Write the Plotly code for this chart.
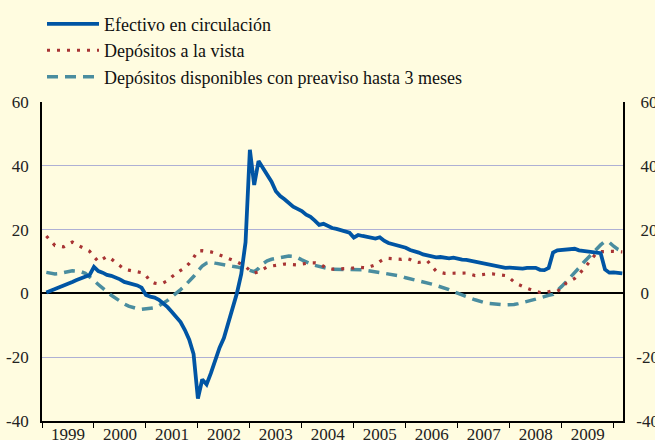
import plotly.graph_objects as go

# Monthly data, Jan 1999 .. Feb 2010 (plotted at month end)
efectivo = [
    0.3, 0.8, 1.3, 1.8, 2.3, 2.8, 3.6, 4.2, 4.7, 5.3, 5.8, 8.3,          # 1999
    7.0, 6.5, 5.8, 5.5, 5.0, 4.4, 3.6, 3.3, 3.0, 2.5, 1.8, -0.5,         # 2000
    -1.0, -1.3, -2.0, -3.0, -4.3, -5.8, -7.3, -9.0, -11.5, -14.5, -19.0, -33.0,  # 2001
    -27.0, -28.5, -25.0, -21.0, -17.0, -14.0, -9.5, -5.0, 0.0, 6.0, 16.0, 45.0,  # 2002
    34.0, 41.5, 39.5, 37.5, 35.0, 32.0, 30.5, 29.5, 28.3, 27.2, 26.5, 25.8,    # 2003
    24.7, 24.0, 22.8, 21.5, 21.8, 21.0, 20.5, 20.2, 19.9, 19.5, 19.0, 17.5,    # 2004
    18.3, 18.0, 17.8, 17.5, 17.2, 17.6, 16.5, 15.8, 15.5, 15.2, 14.8, 14.3,    # 2005
    13.6, 13.3, 12.8, 12.2, 11.8, 11.5, 11.3, 11.4, 11.2, 11.0, 11.2, 10.8,    # 2006
    10.6, 10.5, 10.2, 9.9, 9.6, 9.3, 9.0, 8.7, 8.4, 8.2, 8.0, 8.1,            # 2007
    7.9, 8.0, 7.8, 8.0, 7.9, 8.0, 7.4, 7.3, 8.0, 12.8, 13.5, 13.6,           # 2008
    13.7, 13.9, 14.0, 13.5, 13.3, 13.2, 13.0, 12.9, 12.6, 7.5, 6.5, 6.6,     # 2009
    6.3, 6.3,                                                              # 2010
]
vista = [
    18.0, 16.3, 15.0, 14.8, 14.6, 15.5, 16.1, 15.3, 14.6, 14.0, 13.2, 11.5,
    10.0, 10.8, 11.6, 10.8, 9.7, 8.6, 7.6, 7.3, 7.0, 6.8, 6.5, 5.6,
    3.8, 3.2, 3.0, 3.3, 4.0, 5.2, 6.3, 7.2, 8.0, 9.4, 11.2, 13.3,
    13.4, 13.3, 13.0, 12.6, 12.1, 11.6, 11.1, 10.5, 9.9, 9.2, 8.4, 7.2,
    6.3, 6.8, 7.6, 8.3, 8.6, 8.8, 9.0, 9.2, 9.1, 8.9, 8.9, 9.2,
    9.5, 9.6, 9.6, 9.4, 8.5, 7.8, 7.6, 7.6, 7.6, 7.7, 7.8, 8.0,
    8.3, 8.1, 8.0, 8.5, 9.0, 10.0, 10.8, 11.0, 10.9, 10.6, 10.7, 11.0,
    10.6, 9.9, 9.7, 10.0, 10.2, 8.5, 7.0, 6.6, 6.3, 6.3, 6.3, 6.4,
    6.5, 6.4, 6.0, 5.6, 5.8, 6.0, 6.1, 6.1, 6.0, 5.9, 5.6, 4.8,
    3.6, 2.8, 2.1, 1.6, 1.1, 0.7, 0.3, 0.2, 0.6, 0.9, 0.7, 1.5,
    3.2, 4.0, 4.7, 6.0, 7.5, 9.2, 10.9, 12.6, 13.1, 13.2, 13.2, 13.2,
    13.1, 13.0,
]
preaviso = [
    6.6, 6.3, 6.1, 6.2, 6.5, 6.9, 7.1, 7.0, 6.8, 6.3, 5.3, 4.0,
    2.8, 1.8, 0.5, -0.6, -1.5, -2.6, -3.3, -4.0, -4.5, -4.8, -5.0, -4.9,
    -4.8, -4.5, -3.9, -3.1, -2.2, -1.0, 0.0, 1.2, 2.4, 3.7, 5.3, 7.0,
    8.6, 9.5, 9.8, 9.5, 9.2, 8.9, 8.7, 8.5, 8.3, 8.0, 7.6, 7.2,
    6.8, 7.8, 9.3, 10.2, 10.7, 11.0, 11.3, 11.6, 11.7, 11.6, 11.2, 10.5,
    9.8, 9.3, 8.8, 8.4, 8.1, 7.8, 7.6, 7.6, 7.6, 7.6, 7.6, 7.6,
    7.6, 7.4, 7.2, 7.0, 6.8, 6.5, 6.3, 6.1, 6.0, 5.8, 5.4, 4.9,
    4.6, 4.3, 4.0, 3.7, 3.3, 2.9, 2.5, 2.1, 1.7, 1.2, 0.6, 0.0,
    -0.5, -1.0, -1.5, -2.0, -2.5, -2.8, -3.1, -3.3, -3.4, -3.5, -3.6, -3.6,
    -3.5, -3.2, -2.9, -2.5, -2.2, -1.8, -1.4, -0.9, -0.6, -0.3, 0.8, 2.2,
    3.6, 5.0, 6.5, 8.0, 9.6, 11.0, 12.5, 14.0, 15.2, 16.3, 16.0, 14.8,
    13.8, 13.2,
]

years = list(range(1999, 2010))
year_labels = [str(y) for y in years]
y_ticks = [-40, -20, 0, 20, 40, 60]
y_labels_left = ["-40", "-20", "0", "20", "40", "60"]
y_labels_right = ["-40", "-20", "\u00a00", "\u00a020", "\u00a040", "\u00a060"]

x = [1999 + (i + 1) / 12 for i in range(len(efectivo))]

names = ["Efectivo en circulación", "Depósitos a la vista",
         "Depósitos disponibles con preaviso hasta 3 meses"]

BLUE = "#0055A4"
RED = "#A83434"
TEAL = "#4A8D9F"
BG = "#FFFCE0"
GRID = "#AEB0D4"
FONT = "Liberation Serif, Times New Roman, DejaVu Serif, serif"

fig = go.Figure()
fig.add_trace(go.Scatter(x=x, y=preaviso, mode="lines", name=names[2],
                         line=dict(color=TEAL, width=3.5, dash="11px,7px"),
                         legendrank=3))
fig.add_trace(go.Scatter(x=x, y=vista, mode="lines", name=names[1],
                         line=dict(color=RED, width=3.2, dash="3px,7px"),
                         legendrank=2))
fig.add_trace(go.Scatter(x=x, y=efectivo, mode="lines", name=names[0],
                         line=dict(color=BLUE, width=3.8),
                         legendrank=1))
# invisible trace to carry the right-hand axis
fig.add_trace(go.Scatter(x=x, y=efectivo, mode="lines", yaxis="y2",
                         line=dict(width=0, color="rgba(0,0,0,0)"),
                         showlegend=False, hoverinfo="skip"))

fig.update_layout(
    width=655, height=440,
    margin=dict(l=42, r=32, t=102, b=19, autoexpand=False),
    paper_bgcolor=BG, plot_bgcolor=BG,
    font=dict(family=FONT, size=17, color="#222222"),
    showlegend=True,
    legend=dict(x=0.0, y=1.302, xanchor="left", yanchor="top",
                bgcolor="rgba(0,0,0,0)", traceorder="normal",
                font=dict(family=FONT, size=18, color="#111111"),
                itemwidth=52),
    xaxis=dict(
        range=[1999, 2010.18],
        tickmode="array", tickvals=[y + 0.5 for y in years], ticktext=year_labels,
        ticks="", showgrid=False, zeroline=False,
        showline=True, linecolor="black", linewidth=1.5,
        ticklabelstandoff=-3, automargin=False,
        minor=dict(tick0=1999, dtick=1, ticks="outside", ticklen=5,
                   tickcolor="black", tickwidth=1.2, showgrid=False),
        tickfont=dict(family=FONT, size=17, color="#222222"),
    ),
    yaxis=dict(
        range=[-40, 60], tickmode="array", tickvals=y_ticks, ticktext=y_labels_left,
        showgrid=True, gridcolor=GRID, gridwidth=1.3,
        zeroline=True, zerolinecolor="black", zerolinewidth=1.5,
        showline=True, linecolor="black", linewidth=1.8,
        ticks="", ticklabelstandoff=8, automargin=False,
        tickfont=dict(family=FONT, size=17, color="#222222"),
    ),
    yaxis2=dict(
        range=[-40, 60], overlaying="y", side="right",
        tickmode="array", tickvals=y_ticks, ticktext=y_labels_right,
        showgrid=False, zeroline=False,
        showline=True, linecolor="black", linewidth=1.8,
        ticks="", ticklabelstandoff=8, automargin=False,
        tickfont=dict(family=FONT, size=17, color="#222222"),
    ),
)

fig.write_html("out.html", config={"displayModeBar": False},
               post_script="document.body.style.margin='0px';")
